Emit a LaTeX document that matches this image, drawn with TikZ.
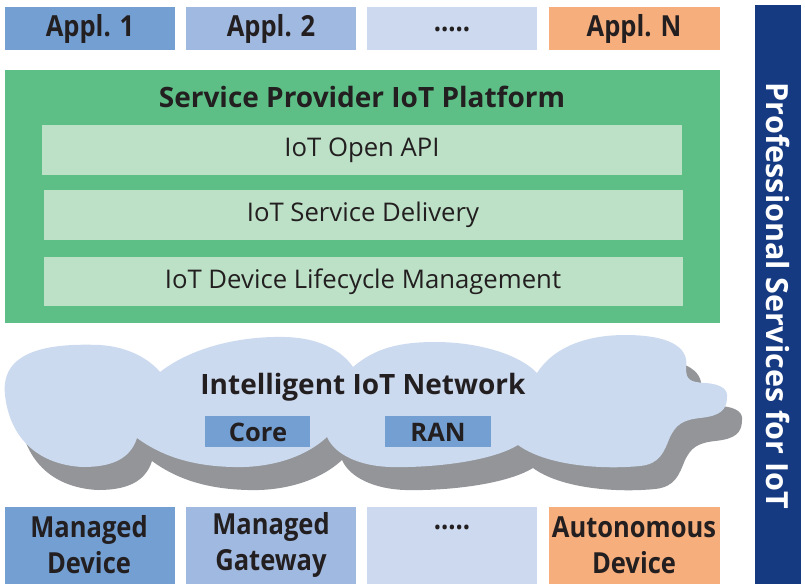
\documentclass[tikz,border=0pt]{standalone}
\usepackage{fontspec}
\setmainfont{Open Sans}
\usepackage{graphicx}
\definecolor{blueA}{HTML}{739FD2}
\definecolor{blueB}{HTML}{A0B9E1}
\definecolor{blueC}{HTML}{CCD9EF}
\definecolor{orangeA}{HTML}{F7AE7D}
\definecolor{greenA}{HTML}{5DBF86}
\definecolor{greenB}{HTML}{BCE1C7}
\definecolor{cloudc}{HTML}{CCDAEF}
\definecolor{shadowc}{HTML}{939598}
\definecolor{navy}{HTML}{153A81}
\definecolor{ink}{HTML}{231F20}
\def\cloudpath{(5,395)
 .. controls (0,350) and (50,343) .. (100,345)
 .. controls (130,347) and (150,360) .. (160,372)
 .. controls (195,345) and (245,336) .. (285,337)
 .. controls (325,338) and (345,355) .. (353,367)
 .. controls (375,348) and (400,342) .. (435,342)
 .. controls (480,342) and (520,355) .. (537,373)
 .. controls (555,345) and (590,335) .. (625,335)
 .. controls (665,335) and (690,345) .. (686,368)
 .. controls (686,380) and (690,382) .. (705,383)
 .. controls (722,384) and (728,390) .. (727,397)
 .. controls (727,410) and (720,416) .. (700,418)
 .. controls (682,420) and (676,425) .. (670,437)
 .. controls (664,452) and (660,464) .. (640,466)
 .. controls (600,470) and (545,465) .. (518,445)
 .. controls (490,462) and (430,468) .. (390,467)
 .. controls (360,466) and (335,455) .. (327,437)
 .. controls (300,462) and (260,468) .. (233,467)
 .. controls (190,466) and (160,455) .. (137,438)
 .. controls (130,460) and (110,467) .. (83,467)
 .. controls (40,465) and (10,440) .. (5,395) -- cycle}
\newcommand{\cond}[1]{\scalebox{0.88}[1]{#1}}
\begin{document}
\begin{tikzpicture}[x=1pt,y=-1pt,
  lbl/.style={text=ink, inner sep=0pt},
  bigb/.style={font=\fontsize{28}{32}\selectfont\bfseries},
  condb/.style={font=\fontsize{29}{36}\selectfont\bfseries, align=center},
  reg/.style={font=\fontsize{25.7}{30}\selectfont},
  smallb/.style={font=\fontsize{25.5}{30}\selectfont\bfseries}]
\useasboundingbox (0,0) rectangle (805,584);
% top applications
\fill[blueA] (5,7) rectangle (175,50); \node[lbl,condb] (a1) at (90,29) {\cond{Appl. 1}};
\fill[blueB] (186,7) rectangle (356,50); \node[lbl,condb] (a2) at (271,29) {\cond{Appl. 2}};
\fill[blueC] (367,7) rectangle (537,50); \node[lbl,condb] (a3) at (452,29) {\cond{.....}};
\fill[orangeA] (549,7) rectangle (720,50); \node[lbl,condb] (a4) at (634,29) {\cond{Appl. N}};
% platform
\fill[greenA] (5,70) rectangle (720,323);
\node[lbl,bigb] (plat) at (362,97) {Service Provider IoT Platform};
\fill[greenB] (42,125) rectangle (682,175); \node[lbl,reg] (api) at (362,150) {IoT Open API};
\fill[greenB] (44,190) rectangle (683,240); \node[lbl,reg] (sd) at (363,215) {IoT Service Delivery};
\fill[greenB] (44,257) rectangle (683,306); \node[lbl,reg] (dlm) at (363,282) {IoT Device Lifecycle Management};
% cloud
\begin{scope}[shift={(15,23)}]
\fill[shadowc] \cloudpath;
\end{scope}
\fill[cloudc] \cloudpath;
\node[lbl,bigb] (net) at (363,387) {Intelligent IoT Network};
\fill[blueA] (205,416) rectangle (310,447); \node[lbl,smallb] (core) at (258,432) {Core};
\fill[blueA] (385,416) rectangle (491,447); \node[lbl,smallb] (ran) at (438,432) {RAN};
% devices
\fill[blueA] (5,507) rectangle (175,584); \node[lbl,condb] (d1) at (89,545) {\cond{Managed}\\\cond{Device}};
\fill[blueB] (186,507) rectangle (356,584); \node[lbl,condb] (d2) at (271,545) {\cond{Managed}\\\cond{Gateway}};
\fill[blueC] (367,507) rectangle (537,584); \node[lbl,condb] (d3) at (452,527) {\cond{.....}};
\fill[orangeA] (549,507) rectangle (720,584); \node[lbl,condb] (d4) at (634,545) {\cond{Autonomous}\\\cond{Device}};
% professional services bar
\fill[navy] (755,5) rectangle (801,584);
\node[inner sep=0pt, text=white, rotate=-90, font=\fontsize{30.5}{34}\selectfont\bfseries] (ps) at (778,296) {Professional Services for IoT};
\end{tikzpicture}
\end{document}
